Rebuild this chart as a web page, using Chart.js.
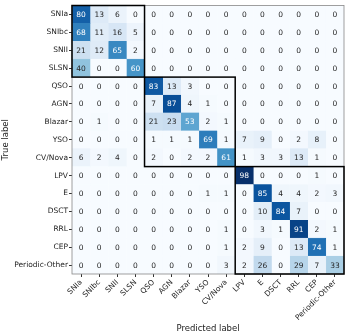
<!DOCTYPE html>
<html><head><meta charset="utf-8">
<script src="https://cdn.jsdelivr.net/npm/chart.js@4"></script>
<style>html,body{margin:0;padding:0;background:#fff}</style>
</head><body>
<canvas id="c" width="361" height="336"></canvas>
<script>
const classLabels = ['SNIa','SNIbc','SNII','SLSN','QSO','AGN','Blazar','YSO','CV/Nova','LPV','E','DSCT','RRL','CEP','Periodic-Other'];
// confusion matrix rows (true label) x columns (predicted label), percent
const confusion = [
  [80,13, 6, 0,  0, 0, 0, 0, 0,  0, 0, 0, 0, 0, 0],
  [68,11,16, 5,  0, 0, 0, 0, 0,  0, 0, 0, 0, 0, 0],
  [21,12,65, 2,  0, 0, 0, 0, 0,  0, 0, 0, 0, 0, 0],
  [40, 0, 0,60,  0, 0, 0, 0, 0,  0, 0, 0, 0, 0, 0],
  [ 0, 0, 0, 0, 83,13, 3, 0, 0,  0, 0, 0, 0, 0, 0],
  [ 0, 0, 0, 0,  7,87, 4, 1, 0,  0, 0, 0, 0, 0, 0],
  [ 0, 1, 0, 0, 21,23,53, 2, 1,  0, 0, 0, 0, 0, 0],
  [ 0, 0, 0, 0,  1, 1, 1,69, 1,  7, 9, 0, 2, 8, 0],
  [ 6, 2, 4, 0,  2, 0, 2, 2,61,  1, 3, 3,13, 1, 0],
  [ 0, 0, 0, 0,  0, 0, 0, 0, 0, 98, 0, 0, 0, 1, 0],
  [ 0, 0, 0, 0,  0, 0, 0, 1, 1,  0,85, 4, 4, 2, 3],
  [ 0, 0, 0, 0,  0, 0, 0, 0, 0,  0,10,84, 7, 0, 0],
  [ 0, 0, 0, 0,  0, 0, 0, 0, 1,  0, 3, 1,91, 2, 1],
  [ 0, 0, 0, 0,  0, 0, 0, 0, 1,  2, 9, 0,13,74, 1],
  [ 0, 0, 0, 0,  0, 0, 0, 0, 3,  2,26, 0,29, 7,33]
];
// class groups (first index, last index) outlined on the diagonal
const groups = [[0,3],[4,8],[9,14]];

const FONT = 'DejaVu Sans';
const vmax = Math.max(...confusion.flat());
const stops = [[247,251,255],[222,235,247],[198,219,239],[158,202,225],[107,174,214],[66,146,198],[33,113,181],[8,81,156],[8,48,107]];
function blues(v){
  const t = Math.max(0, Math.min(1, v / vmax)) * (stops.length - 1);
  const i = Math.min(stops.length - 2, Math.floor(t));
  const f = t - i;
  const c = stops[i].map((a, k) => Math.round(a + (stops[i+1][k] - a) * f));
  return `rgb(${c[0]},${c[1]},${c[2]})`;
}

const datasets = classLabels.map((pred, j) => ({
  label: pred,
  data: classLabels.map(() => 1),
  backgroundColor: confusion.map(row => blues(row[j])),
  borderColor: confusion.map(row => blues(row[j])),
  borderWidth: 0.3,
  borderSkipped: false,
  barPercentage: 1,
  categoryPercentage: 1
}));

const overlay = {
  id: 'overlay',
  afterDatasetsDraw(chart){
    const {ctx, chartArea, scales:{x, y}} = chart;
    const half = (y.getPixelForValue(1) - y.getPixelForValue(0)) / 2;
    ctx.save();
    ctx.font = `7.5px "${FONT}"`;
    ctx.textAlign = 'center';
    ctx.textBaseline = 'middle';
    confusion.forEach((row, i) => {
      row.forEach((v, j) => {
        ctx.fillStyle = v > vmax / 2 ? '#ffffff' : '#262626';
        ctx.fillText(String(v), x.getPixelForValue(j + 0.5), y.getPixelForValue(i) + 0.5);
      });
    });
    ctx.strokeStyle = '#888';
    ctx.lineWidth = 0.8;
    ctx.strokeRect(chartArea.left, chartArea.top, chartArea.right - chartArea.left, chartArea.bottom - chartArea.top);
    ctx.strokeStyle = '#000';
    ctx.lineWidth = 1.5;
    groups.forEach(([a, b]) => {
      const x0 = x.getPixelForValue(a), x1 = x.getPixelForValue(b + 1);
      const y0 = y.getPixelForValue(a) - half, y1 = y.getPixelForValue(b) + half;
      ctx.strokeRect(x0, y0, x1 - x0, y1 - y0);
    });
    ctx.restore();
  }
};

new Chart(document.getElementById('c'), {
  type: 'bar',
  data: { labels: classLabels, datasets },
  options: {
    indexAxis: 'y',
    responsive: false,
    devicePixelRatio: 1,
    animation: false,
    layout: { padding: { top: 2, right: 17, left: 0, bottom: 2 } },
    plugins: { legend: { display: false }, tooltip: { enabled: false } },
    scales: {
      x: {
        type: 'linear', stacked: true, min: 0, max: classLabels.length, position: 'bottom',
        afterBuildTicks: s => { s.ticks = classLabels.map((_, i) => ({ value: i + 0.5 })); },
        ticks: { autoSkip: false, minRotation: 45, maxRotation: 45, padding: 1,
          callback: (v, i) => classLabels[i], font: { size: 7.5, family: FONT }, color: '#222' },
        grid: { drawOnChartArea: false, drawTicks: true, tickLength: 3, color: '#333' },
        border: { display: false },
        title: { display: true, text: 'Predicted label', font: { size: 8.5, family: FONT }, color: '#222', padding: 0 },
        afterFit: s => { s.height = 60; }
      },
      y: {
        type: 'category', stacked: true, offset: true,
        ticks: { font: { size: 7.5, family: FONT }, color: '#222', padding: 1 },
        grid: { offset: false, drawOnChartArea: false, drawTicks: true, tickLength: 3, color: '#333' },
        border: { display: false },
        title: { display: true, text: 'True label', font: { size: 8.5, family: FONT }, color: '#222', padding: { top: 1, bottom: 0 } },
        afterFit: s => { s.width = 72; }
      }
    }
  },
  plugins: [overlay]
});
</script>
</body></html>
